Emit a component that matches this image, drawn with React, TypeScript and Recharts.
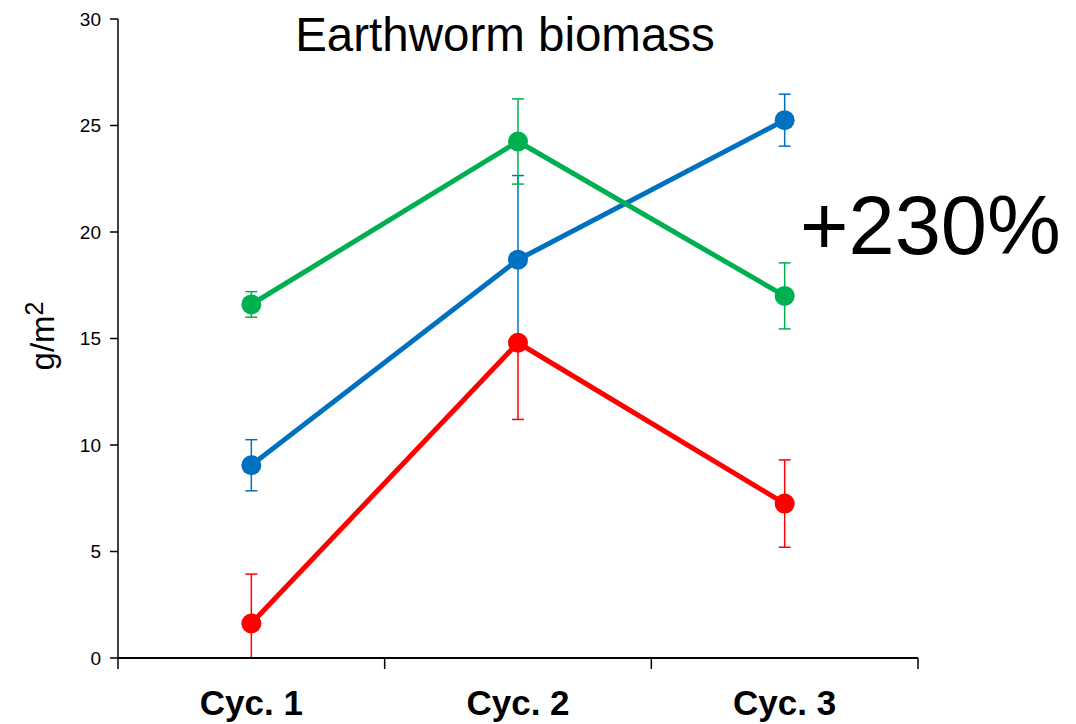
import React from 'react';
import { LineChart, Line, XAxis, YAxis, ErrorBar } from 'recharts';

const categories = ['Cyc. 1', 'Cyc. 2', 'Cyc. 3'];
const blueValues = [9.05, 18.7, 25.25];
const blueErrLow = [1.2, 3.95, 1.22];
const blueErrHigh = [1.2, 3.95, 1.22];
const redValues = [1.62, 14.8, 7.25];
const redErrLow = [1.62, 3.6, 2.05];
const redErrHigh = [2.32, 0, 2.05];
const greenValues = [16.6, 24.25, 17.0];
const greenErrLow = [0.6, 2.0, 1.55];
const greenErrHigh = [0.6, 2.0, 1.55];
const yTicks = [0, 5, 10, 15, 20, 25, 30];
const xTicks = [0, 0.5, 1, 1.5, 2, 2.5, 3];

const BLUE = '#0070C0';
const RED = '#FF0000';
const GREEN = '#00B050';

const data = categories.map((name, i) => ({
  x: i + 0.5,
  name,
  blue: blueValues[i],
  blueErr: [blueErrLow[i], blueErrHigh[i]],
  red: redValues[i],
  redErr: [redErrLow[i], redErrHigh[i]],
  green: greenValues[i],
  greenErr: [greenErrLow[i], greenErrHigh[i]],
}));

const XTick = (props: any) => {
  const { x, y, payload } = props;
  const v = payload.value;
  if (Number.isInteger(v)) {
    return <line x1={x} x2={x} y1={y} y2={y + 11} stroke="#000" strokeWidth={1.5} />;
  }
  return (
    <text x={x} y={y + 57} textAnchor="middle" fontWeight="bold" fontSize={35} fill="#000">
      {categories[Math.floor(v)]}
    </text>
  );
};

export default function App() {
  return (
    <div
      style={{
        position: 'absolute',
        left: 0,
        top: 0,
        width: 1076,
        height: 724,
        background: '#fff',
        fontFamily: '"Liberation Sans", Arial, sans-serif',
      }}
    >
      <LineChart
        width={1076}
        height={724}
        data={data}
        margin={{ top: 19, right: 158, bottom: 16, left: 18 }}
      >
        <Line
          type="linear"
          dataKey="blue"
          stroke={BLUE}
          strokeWidth={5}
          dot={{ r: 10, fill: BLUE, stroke: BLUE, strokeWidth: 0 }}
          activeDot={false}
          isAnimationActive={false}
        >
          <ErrorBar dataKey="blueErr" direction="y" width={6} strokeWidth={1.5} stroke={BLUE} isAnimationActive={false} />
        </Line>
        <Line
          type="linear"
          dataKey="red"
          stroke={RED}
          strokeWidth={5}
          dot={{ r: 10, fill: RED, stroke: RED, strokeWidth: 0 }}
          activeDot={false}
          isAnimationActive={false}
        >
          <ErrorBar dataKey="redErr" direction="y" width={6} strokeWidth={1.5} stroke={RED} isAnimationActive={false} />
        </Line>
        <Line
          type="linear"
          dataKey="green"
          stroke={GREEN}
          strokeWidth={5}
          dot={{ r: 10, fill: GREEN, stroke: GREEN, strokeWidth: 0 }}
          activeDot={false}
          isAnimationActive={false}
        >
          <ErrorBar dataKey="greenErr" direction="y" width={6} strokeWidth={1.5} stroke={GREEN} isAnimationActive={false} />
        </Line>
        <XAxis
          dataKey="x"
          type="number"
          domain={[0, 3]}
          ticks={xTicks}
          interval={0}
          tickLine={false}
          tickSize={0}
          tickMargin={0}
          tick={<XTick />}
          axisLine={{ stroke: '#000', strokeWidth: 2 }}
          height={50}
        />
        <YAxis
          type="number"
          domain={[0, 30]}
          ticks={yTicks}
          interval={0}
          width={100}
          tickSize={8}
          tickMargin={9}
          tick={{ fontSize: 19, fill: '#000' }}
          tickLine={{ stroke: '#000', strokeWidth: 1.5 }}
          axisLine={{ stroke: '#000', strokeWidth: 1.5 }}
        />
      </LineChart>
      <svg
        width={1076}
        height={724}
        style={{ position: 'absolute', left: 0, top: 0, pointerEvents: 'none' }}
      >
        <text x={505} y={51} textAnchor="middle" fontSize={47.5} fill="#000">
          Earthworm biomass
        </text>
        <text x={800} y={254} textAnchor="start" fontSize={83} fill="#000">
          +230%
        </text>
        <text
          x={54}
          y={336}
          textAnchor="middle"
          fontSize={33}
          fill="#000"
          transform="rotate(-90, 54, 336)"
        >
          g/m
          <tspan dy={-11} fontSize={25}>2</tspan>
        </text>
      </svg>
    </div>
  );
}
